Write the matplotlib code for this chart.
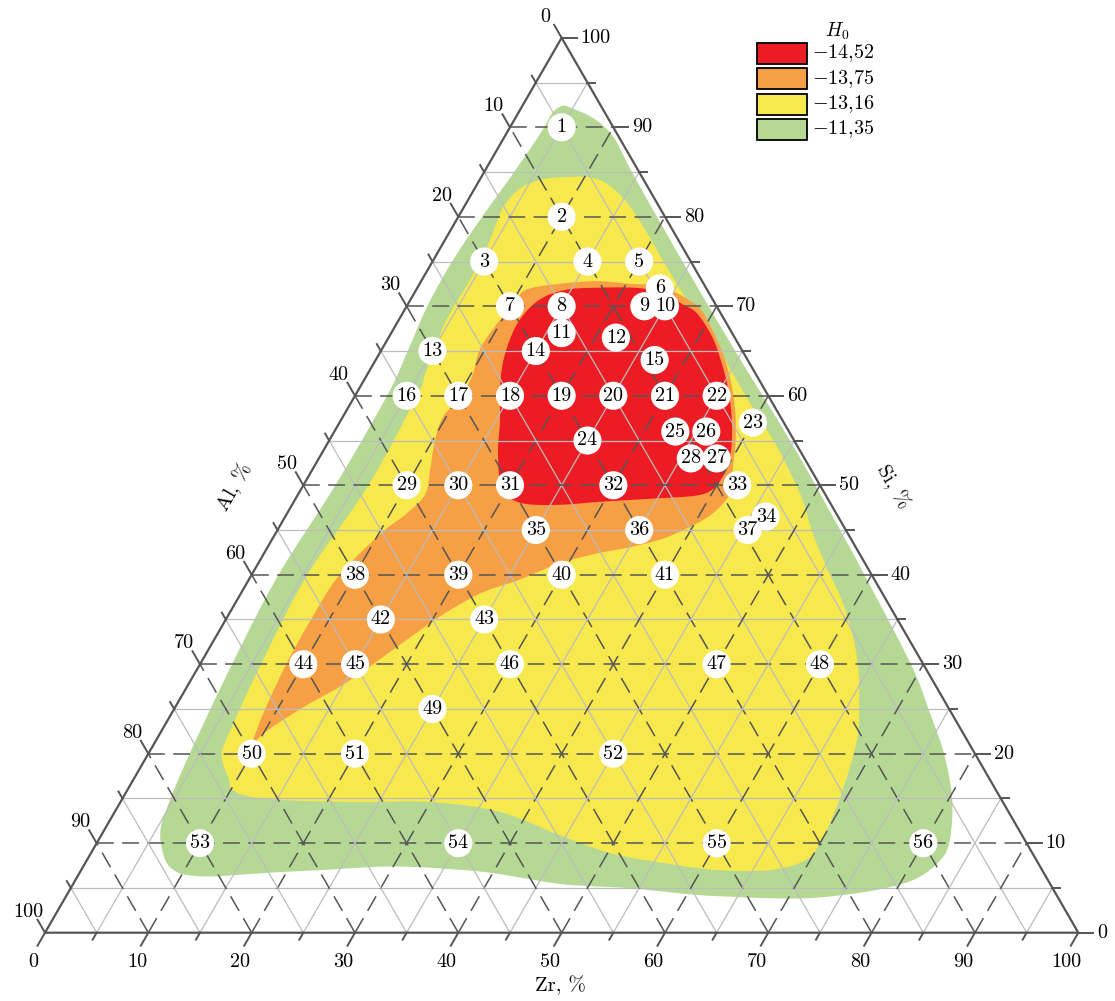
import numpy as np
import matplotlib.pyplot as plt
from matplotlib.patches import Rectangle

plt.rcParams['font.family'] = 'cmr10'
plt.rcParams['mathtext.fontset'] = 'cm'
plt.rcParams['axes.unicode_minus'] = False

# measured compositions (Si, Zr in %; Al = 100 - Si - Zr)
point_num = list(range(1, 57))
point_si = [90, 80, 75, 75, 75, 72, 70, 70, 70, 70, 67, 66.5, 65, 65, 64,
            60, 60, 60, 60, 60, 60, 60, 57, 55, 56, 56, 53, 53,
            50, 50, 50, 50, 50, 46.5, 45, 45, 45, 40, 40, 40, 40, 35, 35,
            30, 30, 30, 30, 30, 25, 20, 20, 20, 10, 10, 10, 10]
point_zr = [5, 10, 5, 15, 20, 23.5, 10, 15, 23, 25, 16.5, 22, 5, 15, 27,
            5, 10, 15, 20, 25, 30, 35, 40, 25, 33, 36, 38.5, 36,
            10, 15, 20, 30, 42, 46.5, 25, 35, 45.5, 10, 20, 30, 40, 15, 25,
            10, 15, 30, 50, 60, 25, 10, 20, 45, 10, 35, 60, 80]

# H0 regions, outlines as (Si, Zr)
green_si = [92.4, 92.1, 91.3, 90.2, 88.5, 85, 75, 65, 55, 47, 40, 30, 25, 20, 14.8, 10,
            7.8, 5.9, 4.8, 4.2, 3.85, 3.85, 4.0, 4.2, 4.6, 5.0, 5.2, 5.5, 6.5, 7.0,
            7.4, 7.0, 6.7, 6.3, 6.4, 6.8, 8.1, 11.1, 14.1, 20, 30, 40, 50, 60, 65,
            70, 75, 80, 85, 89.5, 91.6]
green_zr = [3.9, 5.0, 7.0, 8.9, 11.0, 14.3, 24.2, 34.3, 44.6, 52.5, 59.3, 68.8, 73, 77, 80.4, 82.5,
            82.5, 81.1, 78.2, 75, 71.8, 68.2, 64.8, 61.2, 57.5, 53.8, 50.3, 46.7, 41, 37,
            30, 23.2, 18.3, 13.2, 10.9, 9.3, 7.6, 5.6, 4.8, 4.0, 3.1, 2.6, 3.1, 3.1, 2.6,
            2.0, 1.9, 2.3, 2.9, 3.3, 3.3]

yellow_si = [84.4, 84.3, 82.4, 79.1, 74.9, 71.1, 67.7, 64.8, 61.4, 58.1, 54.8, 51.0, 48.4,
             44.7, 40.9, 37.2, 33.5, 29.7, 26.0, 22.3, 19.3, 15.6, 12.6, 10.0, 8.1, 7.0,
             7.0, 7.8, 8.9, 10.9, 13.5, 14.6, 14.6, 14.8, 15.2, 16.0, 17.1, 19.7, 22,
             30, 40, 50, 60, 62.5, 65.5, 68.5, 73.3, 76.3, 79.3, 81.2, 83.0, 84.0]
yellow_zr = [7.6, 11.1, 14.5, 18.25, 22.45, 26.35, 29.85, 33.0, 36.4, 39.75, 43.2, 46.8, 49.1,
             51.95, 55.15, 58.5, 61.35, 63.85, 65.8, 67.55, 68.45, 69.3, 69.8, 70.0, 69.55, 66.7,
             61.5, 55.9, 50.25, 44.35, 37.25, 30, 22.9, 15.9, 12.2, 10.1, 9.25, 7.25, 6.7,
             5.9, 5.4, 6.3, 6.0, 5.55, 5.05, 4.6, 4.65, 4.5, 4.05, 3.8, 4.3, 5.5]

orange_si = [71.86, 72.6, 72.8, 72.5, 72.4, 71.75, 70.74, 69.62, 67.05, 64.03, 60.9, 57.77,
             54.75, 52.18, 49.5, 47.8, 46.1, 44.2, 43.1, 42.45, 41.3, 39.4, 38.0, 35.75,
             33.1, 30.15, 27.5, 25.25, 22.3, 20.4, 19.6, 21.3, 24.7, 29.95, 35.0, 39.9,
             44.7, 46.7, 48.95, 51.75, 55.1, 57.66, 59.56, 62.13, 65.15, 67.75, 70.0]
orange_zr = [10.67, 14.2, 17.3, 20.45, 22.83, 24.8, 26.86, 28.68, 31.2, 33.8, 36.04, 37.94,
             39.45, 40.5, 41.65, 41.6, 40.6, 38.1, 35.15, 32.5, 29.2, 26.1, 23.3, 20.9,
             18.9, 16.85, 14.8, 12.45, 10.05, 9.65, 9.5, 9.4, 8.85, 8.35, 8.25, 8.5,
             10.25, 11.5, 12.3, 11.4, 10.2, 9.7, 10.2, 10.25, 9.5, 9.67, 10.17]

red_si = [68.5, 70.75, 71.86, 72.08, 72.08, 71.75, 71.08, 70.19, 69.25, 66.64, 63.66, 60.68,
          57.69, 54.72, 52.48, 50.83, 49.49, 48.83, 48.49, 48.15, 47.82, 47.93, 48.83,
          50.63, 53.98, 56.95, 59.93, 62.91, 65.7]
red_zr = [11.7, 12.5, 14.56, 17.67, 20.86, 23.15, 24.94, 26.65, 28.45, 31.23, 33.66, 35.79,
          37.6, 39.1, 39.9, 40.1, 39.8, 38.5, 34.3, 29.6, 25.93, 22.5, 20.3,
          18.7, 16.85, 15.55, 14.07, 12.74, 11.95]

h0_labels = [r'$-14{,}52$', r'$-13{,}75$', r'$-13{,}16$', r'$-11{,}35$']
h0_colors = ['#ED1C24', '#F79F45', '#F7E84E', '#B5D995']

# pixel geometry of the original figure
PX = 1033.3 / 100.0
X0, Y0 = 45.0, 932.7
W, H = 1115, 1001
R3 = np.sqrt(3) / 2


def tern(si, zr):
    si = np.asarray(si, float)
    zr = np.asarray(zr, float)
    return zr + si / 2.0, si * R3


def from_px(xp, yp):
    return (xp - X0) / PX, (Y0 - yp) / PX


def smooth_closed(x, y, n=16):
    # closed Catmull-Rom curve through the outline points
    P = np.column_stack([x, y])
    N = len(P)
    t = np.linspace(0, 1, n, endpoint=False)[:, None]
    out = []
    for i in range(N):
        p0, p1, p2, p3 = P[i - 1], P[i], P[(i + 1) % N], P[(i + 2) % N]
        seg = 0.5 * (2 * p1 + (-p0 + p2) * t + (2 * p0 - 5 * p1 + 4 * p2 - p3) * t ** 2
                     + (-p0 + 3 * p1 - 3 * p2 + p3) * t ** 3)
        out.append(seg)
    out = np.vstack(out)
    return out[:, 0], out[:, 1]


fig = plt.figure(figsize=(W / 100, H / 100), dpi=100)
ax = fig.add_axes([0, 0, 1, 1])
ax.set_xlim(-X0 / PX, (W - X0) / PX)
ax.set_ylim(-(H - Y0) / PX, Y0 / PX)
ax.axis('off')

# coloured regions
regions = [(green_si, green_zr), (yellow_si, yellow_zr),
           (orange_si, orange_zr), (red_si, red_zr)]
for (rs, rz), col in zip(regions, h0_colors[::-1]):
    x, y = tern(rs, rz)
    sx, sy = smooth_closed(x, y)
    ax.fill(sx, sy, color=col, lw=0, zorder=1)

# grid
for k in range(5, 100, 5):
    if k % 10 == 0:
        kw = dict(color='#555555', lw=1.1, ls=(0, (11, 5.5)), zorder=2)
    else:
        kw = dict(color='#bcbcbc', lw=0.9, zorder=2)
    lines = [tern([k, k], [0, 100 - k]),          # Si = k
             tern([0, 100 - k], [k, k]),          # Zr = k
             tern([0, 100 - k], [100 - k, 0])]    # Al = k
    for lx, ly in lines:
        ax.plot(lx, ly, **kw)

# triangle
tx, ty = tern([0, 0, 100, 0], [0, 100, 0, 0])
ax.plot(tx, ty, color='#555555', lw=1.6, zorder=3, solid_joinstyle='miter')

# ticks and tick labels
for k in range(0, 101, 5):
    major = k % 10 == 0
    L = (15 if major else 8) / PX
    # Zr (bottom)
    bx, by = tern(0, k)
    ex, ey = bx - 0.5 * L, by - R3 * L
    ax.plot([bx, ex], [by, ey], color='#555555', lw=1.4, zorder=3)
    if major:
        ax.text(ex - 4 / PX, ey - 16 / PX, str(k), fontsize=14.5, ha='center', va='center')
    # Si (right)
    bx, by = tern(k, 100 - k)
    ex, ey = bx + L, by
    ax.plot([bx, ex], [by, ey], color='#555555', lw=1.4, zorder=3)
    if major:
        ax.text(ex + 4 / PX, ey, str(k), fontsize=14.5, ha='left', va='center')
    # Al (left)
    bx, by = tern(100 - k, 0)
    ex, ey = bx - 0.5 * L, by + R3 * L
    ax.plot([bx, ex], [by, ey], color='#555555', lw=1.4, zorder=3)
    if major:
        ax.text(ex - 9 / PX, ey + 8 / PX, str(k), fontsize=14.5, ha='center', va='center')

# axis titles
ax.text(*from_px(560, 985), 'Zr, %', fontsize=15, ha='center', va='center')
ax.text(*from_px(234, 487), 'Al, %', fontsize=15, ha='center', va='center', rotation=60)
ax.text(*from_px(893, 487), 'Si, %', fontsize=15, ha='center', va='center', rotation=-60)

# sample points
px_, py_ = tern(point_si, point_zr)
ax.scatter(px_, py_, s=410, c='white', edgecolors='none', zorder=5)
for n, x, y in zip(point_num, px_, py_):
    ax.text(x, y, str(n), fontsize=14.5, ha='center', va='center', zorder=6)

# legend
for i, (col, lab) in enumerate(zip(h0_colors, h0_labels)):
    top = 43 + i * 25.3
    ax.add_patch(Rectangle(from_px(757, top + 21), 50 / PX, 21 / PX,
                           facecolor=col, edgecolor='black', lw=1.3, zorder=5))
    ax.text(*from_px(812, top + 10.5), lab, fontsize=14.5, ha='left', va='center')
ax.text(*from_px(837, 31), r'$H_0$', fontsize=14, ha='center', va='center')

fig.savefig('out.png', dpi=100)
